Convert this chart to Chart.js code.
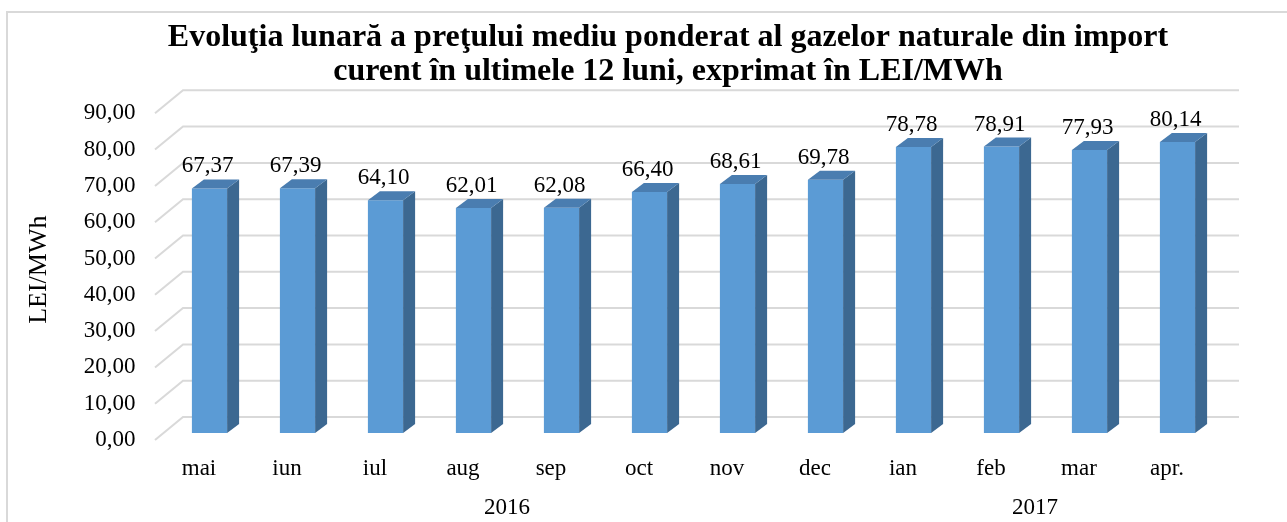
<!DOCTYPE html>
<html>
<head>
<meta charset="utf-8">
<title>Pretul mediu ponderat al gazelor naturale din import</title>
<script src="https://cdn.jsdelivr.net/npm/chart.js"></script>
<style>
  html, body { margin: 0; padding: 0; background: #ffffff; }
  #priceChart { display: block; }
</style>
</head>
<body>
<canvas id="priceChart" width="1287" height="522"></canvas>
<script>
// Chart data
const months = ["mai", "iun", "iul", "aug", "sep", "oct", "nov", "dec", "ian", "feb", "mar", "apr."];
const prices = [67.37, 67.39, 64.10, 62.01, 62.08, 66.40, 68.61, 69.78, 78.78, 78.91, 77.93, 80.14];
const years = ["2016", "2017"];
const monthsPerYear = [8, 4];
const titleLines = [
  "Evoluţia lunară a preţului mediu ponderat al gazelor naturale din import",
  "curent în ultimele 12 luni, exprimat în LEI/MWh",
];

// Colors
const frontColor = "#5b9bd5";
const sideColor = "#3c6891";
const topColor = "#4a7db0";
const gridColor = "#d9d9d9";
const serif = "'Liberation Serif', 'Times New Roman', serif";

// Fake 3D offsets, relative to the plane the bars are drawn in
const frontPlane = { dx: -10.5, dy: 7 };
const backWall = { dx: 17.5, dy: -16 };
const barDepth = { dx: 12, dy: -9 };

// Function to format numbers with a decimal comma
function formatValue(value) {
  return Number(value).toFixed(2).replace(".", ",");
}

// Background, frame and heading
const backgroundPlugin = {
  id: "backgroundPlugin",
  beforeDraw(chart) {
    const ctx = chart.ctx;
    ctx.save();
    ctx.fillStyle = "#ffffff";
    ctx.fillRect(0, 0, chart.width, chart.height);
    ctx.strokeStyle = gridColor;
    ctx.lineWidth = 2;
    ctx.strokeRect(7, 12, chart.width + 20, chart.height + 20);

    ctx.fillStyle = "#000000";
    ctx.font = "bold 32px " + serif;
    ctx.textAlign = "center";
    ctx.textBaseline = "alphabetic";
    ctx.fillText(titleLines[0], 668, 46);
    ctx.fillText(titleLines[1], 668, 80);
    ctx.restore();
  },
};

// Slanted gridlines on the floor and back wall
const wallPlugin = {
  id: "wallPlugin",
  beforeDatasetsDraw(chart) {
    const ctx = chart.ctx;
    const area = chart.chartArea;
    const yScale = chart.scales.y;
    ctx.save();
    ctx.strokeStyle = gridColor;
    ctx.lineWidth = 2;
    yScale.ticks.forEach((tick) => {
      const y = yScale.getPixelForValue(tick.value);
      ctx.beginPath();
      ctx.moveTo(area.left + frontPlane.dx, y + frontPlane.dy);
      ctx.lineTo(area.left + backWall.dx, y + backWall.dy);
      ctx.lineTo(area.right + backWall.dx, y + backWall.dy);
      ctx.stroke();
    });
    ctx.restore();
  },
};

// Side and top faces of the bars, value labels and year labels
const barsPlugin = {
  id: "barsPlugin",
  afterDatasetsDraw(chart) {
    const ctx = chart.ctx;
    const meta = chart.getDatasetMeta(0);
    ctx.save();
    meta.data.forEach((bar, i) => {
      const left = bar.x - bar.width / 2;
      const right = bar.x + bar.width / 2;
      const top = bar.y;
      const bottom = bar.base;

      // side face
      ctx.fillStyle = sideColor;
      ctx.beginPath();
      ctx.moveTo(right, top);
      ctx.lineTo(right + barDepth.dx, top + barDepth.dy);
      ctx.lineTo(right + barDepth.dx, bottom + barDepth.dy);
      ctx.lineTo(right, bottom);
      ctx.closePath();
      ctx.fill();

      // top face
      ctx.fillStyle = topColor;
      ctx.beginPath();
      ctx.moveTo(left, top);
      ctx.lineTo(left + barDepth.dx, top + barDepth.dy);
      ctx.lineTo(right + barDepth.dx, top + barDepth.dy);
      ctx.lineTo(right, top);
      ctx.closePath();
      ctx.fill();

      // value label
      ctx.fillStyle = "#000000";
      ctx.font = "23px " + serif;
      ctx.textAlign = "center";
      ctx.textBaseline = "alphabetic";
      ctx.fillText(formatValue(prices[i]), bar.x - 2, top - 16);
    });

    // year labels under the month labels
    const xScale = chart.scales.x;
    let first = 0;
    ctx.font = "23px " + serif;
    ctx.textBaseline = "middle";
    years.forEach((year, i) => {
      const last = first + monthsPerYear[i] - 1;
      const x = (xScale.getPixelForValue(first) + xScale.getPixelForValue(last)) / 2 + frontPlane.dx;
      ctx.fillText(year, x, 508);
      first = last + 1;
    });
    ctx.restore();
  },
};

const priceChart = new Chart(document.getElementById("priceChart"), {
  type: "bar",
  data: {
    labels: months,
    datasets: [
      {
        label: "LEI/MWh",
        data: prices,
        backgroundColor: frontColor,
        borderWidth: 0,
        barPercentage: 0.4,
        categoryPercentage: 1,
      },
    ],
  },
  options: {
    responsive: false,
    animation: false,
    layout: {
      padding: { top: 106.3, left: 0, right: 65.5, bottom: 0 },
    },
    plugins: {
      legend: { display: false },
      tooltip: { enabled: false },
    },
    scales: {
      x: {
        grid: { display: false, drawTicks: false },
        border: { display: false },
        ticks: {
          color: "#000000",
          font: { family: serif, size: 23 },
          padding: 22,
          labelOffset: frontPlane.dx,
          maxRotation: 0,
        },
        afterFit: (scale) => {
          scale.height = 89;
        },
      },
      y: {
        min: 0,
        max: 90,
        grid: { display: false, drawTicks: false },
        border: { display: false },
        ticks: {
          stepSize: 10,
          color: "#000000",
          font: { family: serif, size: 23 },
          padding: 30,
          labelOffset: frontPlane.dy,
          callback: (value) => formatValue(value),
        },
        title: {
          display: true,
          text: "LEI/MWh",
          color: "#000000",
          font: { family: serif, size: 26 },
          padding: { top: 23.4, bottom: 0 },
        },
        afterFit: (scale) => {
          scale.width = 165.5;
        },
      },
    },
  },
  plugins: [backgroundPlugin, wallPlugin, barsPlugin],
});
</script>
</body>
</html>
